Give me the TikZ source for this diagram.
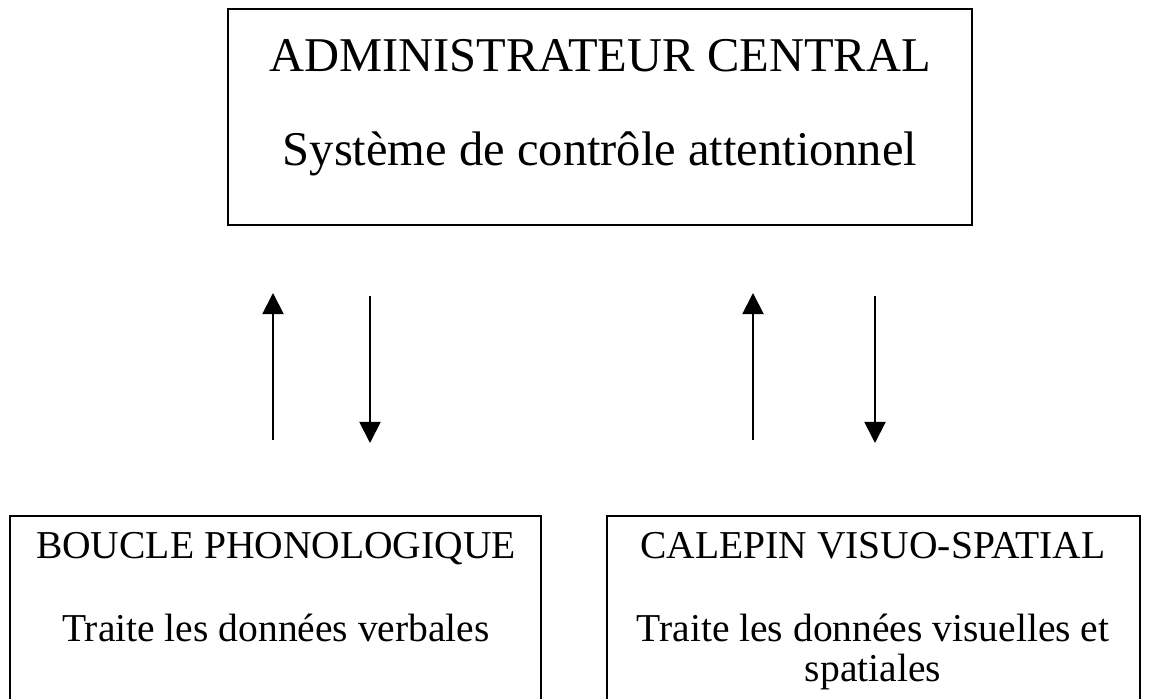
\documentclass[tikz,border=0pt]{standalone}
\usepackage{fontspec}
\setmainfont{Liberation Serif}
\usetikzlibrary{arrows.meta}

\begin{document}
\begin{tikzpicture}[x=0.02cm, y=-0.02cm,
    boxnode/.style={draw, line width=1.2pt, inner sep=0pt},
    bigtext/.style={anchor=base, font=\fontsize{27.6}{32}\selectfont},
    smalltext/.style={anchor=base, font=\fontsize{22.5}{26}\selectfont},
    flow/.style={line width=1.1pt, -{Triangle[width=12pt, length=12pt]}}]
                % frame
                \useasboundingbox (0, 0) rectangle (1153, 699);
                % Boxes
                \node[boxnode, minimum width=14.88cm, minimum height=4.32cm] (admin) at (600, 117) {};
                \node[boxnode, minimum width=10.62cm, minimum height=4.1cm] (boucle) at (275.5, 618.5) {};
                \node[boxnode, minimum width=10.66cm, minimum height=4.1cm] (calepin) at (873.5, 618.5) {};

                % Texts
                \node[bigtext] (admintitle) at (600, 72) {ADMINISTRATEUR CENTRAL};
                \node[bigtext] (adminsub) at (600, 166) {Système de contrôle attentionnel};
                \node[smalltext] (boucletitle) at (276, 558) {BOUCLE PHONOLOGIQUE};
                \node[smalltext] (bouclesub) at (276, 641) {Traite les données verbales};
                \node[smalltext] (calepintitle) at (873, 558) {CALEPIN VISUO-SPATIAL};
                \node[smalltext] (calepinsub) at (873, 641) {Traite les données visuelles et};
                \node[smalltext] (calepinsub2) at (873, 681) {spatiales};

                % Arrow ends
                \coordinate (bu1) at (273, 440);
                \coordinate (bu2) at (273, 293);
                \coordinate (bd1) at (370, 296);
                \coordinate (bd2) at (370, 443);
                \coordinate (cu1) at (753, 440);
                \coordinate (cu2) at (753, 293);
                \coordinate (cd1) at (875, 296);
                \coordinate (cd2) at (875, 443);

                \draw[flow] (bu1) -- (bu2);
                \draw[flow] (bd1) -- (bd2);
                \draw[flow] (cu1) -- (cu2);
                \draw[flow] (cd1) -- (cd2);
            \end{tikzpicture}
\end{document}
